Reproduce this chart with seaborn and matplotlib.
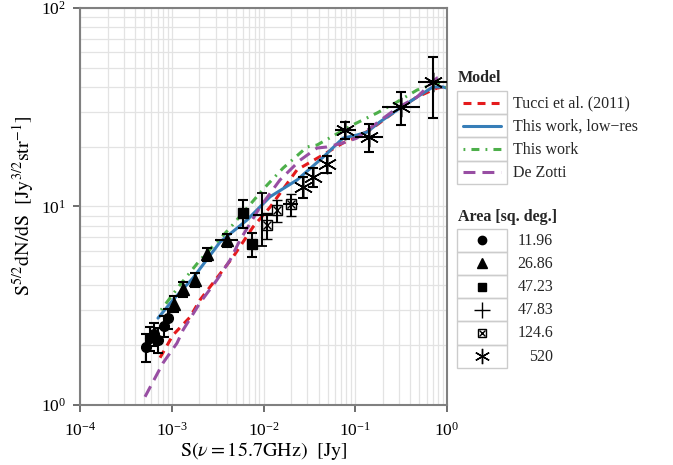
import matplotlib
matplotlib.use("Agg")
import matplotlib.pyplot as plt
from matplotlib.patches import Rectangle
from matplotlib.ticker import LogLocator, NullFormatter
import seaborn as sns

sns.set_theme(style="whitegrid")
plt.rcParams['font.family'] = ['Liberation Serif', 'DejaVu Serif']
plt.rcParams['mathtext.fontset'] = 'stix'

# model curves, S [Jy] vs S^5/2 dN/dS
tucci_s = [7.45e-4, 1.03e-3, 1.58e-3, 2.03e-3, 3.11e-3, 4.66e-3, 7.69e-3, 1.18e-2, 2.32e-2,
           4.45e-2, 7.35e-2, 0.104, 0.145, 0.285, 0.471, 0.778, 0.904]
tucci_y = [1.73, 2.25, 2.77, 3.38, 4.37, 5.57, 7.89, 9.93, 15.3, 18.2, 20.9, 22.4, 24.3,
           30.6, 35.6, 39.5, 40.0]

lowres_s = [7.08e-4, 1.03e-3, 1.71e-3, 3.36e-3, 6.61e-3, 1.18e-2, 2.32e-2, 4.45e-2, 7.35e-2,
            0.104, 0.134, 0.186, 0.308, 0.471, 0.703, 0.904, 1.0]
lowres_y = [2.74, 3.38, 4.37, 6.62, 8.55, 11.2, 13.6, 17.7, 22.1, 22.9, 23.7, 26.7, 31.3,
            35.6, 40.0, 40.0, 39.5]

thiswork_s = [7.64e-4, 1.23e-3, 2.03e-3, 4.32e-3, 9.89e-3, 1.63e-2, 2.98e-2, 3.83e-2, 9.44e-2,
              0.173, 0.285, 0.471, 0.778, 1.0]
thiswork_y = [3.01, 4.03, 5.37, 7.80, 12.2, 15.6, 19.95, 20.4, 25.8, 29.6, 33.6, 38.6, 41.9, 40.0]

dezotti_s = [5.11e-4, 6.25e-4, 8.04e-4, 1.14e-3, 1.33e-3, 2.03e-3, 3.11e-3, 4.32e-3, 5.55e-3,
             9.16e-3, 1.51e-2, 2.50e-2, 3.83e-2, 4.92e-2, 7.35e-2, 0.104, 0.173, 0.285, 0.471,
             0.778, 0.904]
dezotti_y = [1.10, 1.31, 1.63, 2.05, 2.39, 3.27, 4.27, 5.37, 6.78, 9.93, 13.6, 17.1, 19.7,
             19.95, 20.9, 22.1, 26.4, 31.3, 35.6, 44.4, 44.9]

# measured counts per survey area
circle_s = [5.25e-4, 5.8e-4, 6.4e-4, 7.1e-4, 8.2e-4, 9.1e-4]
circle_y = [1.96, 2.18, 2.28, 2.13, 2.50, 2.74]
circle_err = [0.31, 0.30, 0.30, 0.30, 0.30, 0.32]

tri_s = [1.06e-3, 1.33e-3, 1.79e-3, 2.42e-3, 4.0e-3]
tri_y = [3.23, 3.84, 4.26, 5.76, 6.78]
tri_err = [0.30, 0.32, 0.35, 0.45, 0.50]
tri_xmin = [1.06e-3, 1.33e-3, 1.79e-3, 2.42e-3, 2.96e-3]
tri_xmax = [1.06e-3, 1.33e-3, 1.79e-3, 2.42e-3, 5.27e-3]

sq_s = [5.98e-3, 7.5e-3]
sq_y = [9.27, 6.47]
sq_err = [1.5, 0.9]

plus_s = [9.6e-3]
plus_y = [9.06]
plus_err = [2.7]
plus_xmin = [7.76e-3]
plus_xmax = [1.24e-2]

boxx_s = [1.09e-2, 1.40e-2, 2.0e-2]
boxx_y = [8.07, 9.6, 10.3]
boxx_err = [1.2, 1.2, 1.3]
boxx_xmin = [1.09e-2, 1.40e-2, 1.63e-2]
boxx_xmax = [1.09e-2, 1.40e-2, 2.38e-2]

star_s = [2.69e-2, 3.47e-2, 4.92e-2, 7.73e-2, 0.141, 0.316, 0.703]
star_y = [12.5, 14.1, 16.4, 24.3, 22.4, 31.7, 42.4]
star_err = [1.5, 1.6, 1.6, 2.5, 3.5, 6.0, 14.5]
star_xmin = [2.69e-2, 3.47e-2, 4.92e-2, 6.01e-2, 9.93e-2, 0.195, 0.483]
star_xmax = [2.69e-2, 3.47e-2, 4.92e-2, 0.102, 0.200, 0.508, 1.0]

model_labels = ["Tucci et al. (2011)", "This work, low\u2212res", "This work", "De Zotti"]
area_labels = ["11.96", "26.86", "47.23", "47.83", "124.6", "520"]

red, blue, green, purple = "#e41a1c", "#377eb8", "#4daf4a", "#984ea3"
red_ls = (0, (2.6, 2.0))
green_ls = (0, (0.6, 2.0, 2.6, 2.0))
purple_ls = (0, (3.9, 2.3))
asterisk = (6, 2, 0)

fig = plt.figure(figsize=(6.73, 4.65), dpi=100)
ax = fig.add_axes([80 / 673, 1 - 405 / 465, 367 / 673, 397 / 465])
ax.set_xscale("log")
ax.set_yscale("log")

lw = 2.2
sns.lineplot(x=tucci_s, y=tucci_y, ax=ax, color=red, lw=lw, linestyle=red_ls, zorder=2)
sns.lineplot(x=lowres_s, y=lowres_y, ax=ax, color=blue, lw=lw, zorder=2)
sns.lineplot(x=thiswork_s, y=thiswork_y, ax=ax, color=green, lw=lw, linestyle=green_ls, zorder=2)
sns.lineplot(x=dezotti_s, y=dezotti_y, ax=ax, color=purple, lw=lw, linestyle=purple_ls, zorder=2)


def xbars(s, smin, smax, y):
    lo = [a - b for a, b in zip(s, smin)]
    hi = [b - a for a, b in zip(s, smax)]
    ax.errorbar(s, y, xerr=[lo, hi], fmt="none", ecolor="black", elinewidth=1.5, capsize=0, zorder=3)


eb = dict(ecolor="black", elinewidth=1.5, capsize=3.5, capthick=1.5, zorder=3)
ax.errorbar(circle_s, circle_y, yerr=circle_err, fmt="o", color="black", ms=7, **eb)
ax.errorbar(tri_s, tri_y, yerr=tri_err, fmt="^", color="black", ms=8, **eb)
xbars(tri_s, tri_xmin, tri_xmax, tri_y)
ax.errorbar(sq_s, sq_y, yerr=sq_err, fmt="s", color="black", ms=7, **eb)
ax.errorbar(plus_s, plus_y, yerr=plus_err, fmt="+", color="black", ms=11, mew=1.3, **eb)
xbars(plus_s, plus_xmin, plus_xmax, plus_y)
ax.errorbar(boxx_s, boxx_y, yerr=boxx_err, fmt="s", color="black", mfc="none", ms=7, mew=1.0, **eb)
ax.plot(boxx_s, boxx_y, "x", color="black", ms=6, mew=1.0, zorder=4)
xbars(boxx_s, boxx_xmin, boxx_xmax, boxx_y)
ax.errorbar(star_s, star_y, yerr=star_err, fmt="none", **eb)
ax.plot(star_s, star_y, ls="none", marker=asterisk, color="black", ms=14, mew=1.1, zorder=4)
xbars(star_s, star_xmin, star_xmax, star_y)

ax.set_xlim(1e-4, 1)
ax.set_ylim(1, 100)
for axis in (ax.xaxis, ax.yaxis):
    axis.set_major_locator(LogLocator(base=10, numticks=10))
    axis.set_minor_locator(LogLocator(base=10, subs=range(2, 10), numticks=20))
    axis.set_minor_formatter(NullFormatter())
ax.grid(which="both", color="#e3e3e3", lw=0.9)
ax.tick_params(which="major", bottom=True, left=True, length=5, width=1.2, color="#555555",
               direction="out", labelsize=12.5, labelcolor="black", pad=5)
ax.tick_params(which="minor", length=0)
ax.tick_params(axis="x", pad=7)
for sp in ax.spines.values():
    sp.set_color("#808080")
    sp.set_linewidth(1.5)

ax.set_xlabel(r"$\mathrm{S}(\nu = 15.7\mathrm{GHz})\ \ [\mathrm{Jy}]$", fontsize=14.5, labelpad=0,
              color="black")
ax.set_ylabel(r"$\mathrm{S}^{5/2}\mathrm{dN/dS}\ \ [\mathrm{Jy}^{3/2}\mathrm{str}^{-1}]$",
              fontsize=14.5, labelpad=3, color="black")

# legend drawn as a small table in pixel coordinates
lg = fig.add_axes([0, 0, 1, 1], facecolor="none")
lg.set_xlim(0, 673)
lg.set_ylim(465, 0)
lg.axis("off")
cell_x, cell_w, row_h = 457, 50, 23.2
lg.text(458, 78, "Model", fontsize=11.5, fontweight="bold", va="center", ha="left")
model_styles = [(red, red_ls), (blue, "-"), (green, green_ls), (purple, purple_ls)]
for i, (lab, (c, ls)) in enumerate(zip(model_labels, model_styles)):
    top = 91 + i * row_h
    lg.add_patch(Rectangle((cell_x, top), cell_w, row_h, fill=False, ec="#cccccc", lw=1))
    lg.plot([463, 501], [top + row_h / 2] * 2, color=c, ls=ls, lw=lw)
    lg.text(513, top + row_h / 2 + 0.5, lab, fontsize=11.5, va="center", ha="left")

lg.text(458, 217, "Area [sq. deg.]", fontsize=11.5, fontweight="bold", va="center", ha="left")
area_marks = [("o", 6, "black", 1), ("^", 7, "black", 1), ("s", 6, "black", 1),
              ("+", 11, "black", 1.0), ("boxx", 6, "none", 1.0), ("ast", 11, "black", 1.0)]
for i, (lab, (m, ms, fc, mew)) in enumerate(zip(area_labels, area_marks)):
    top = 228.5 + i * row_h
    cy = top + row_h / 2
    lg.add_patch(Rectangle((cell_x, top), cell_w, row_h, fill=False, ec="#cccccc", lw=1))
    if m == "boxx":
        lg.plot([482], [cy], "s", mfc="none", mec="black", ms=ms, mew=mew)
        lg.plot([482], [cy], "x", color="black", ms=ms - 1, mew=mew)
    elif m == "ast":
        lg.plot([482], [cy], ls="none", marker=asterisk, color="black", ms=ms, mew=mew)
    else:
        lg.plot([482], [cy], ls="none", marker=m, color="black", mfc=fc, ms=ms, mew=mew)
    lg.text(553, cy + 0.5, lab, fontsize=11.5, va="center", ha="right")

fig.savefig("out.png", dpi=100)
